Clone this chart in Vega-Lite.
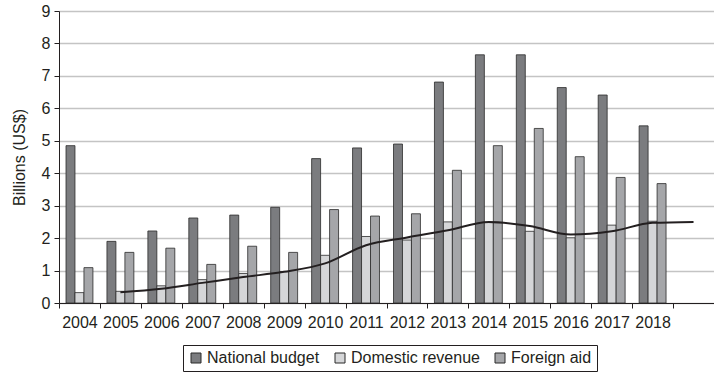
{
  "$schema": "https://vega.github.io/schema/vega-lite/v6.json",
  "autosize": "none",
  "width": 655,
  "height": 292,
  "padding": {"left": 59, "top": 11, "right": 0, "bottom": 71},
  "config": {
    "view": {"stroke": null},
    "font": "Liberation Sans",
    "axis": {"labelFont": "Liberation Sans", "titleFont": "Liberation Sans", "labelColor": "#231f20", "titleColor": "#231f20", "labelFontSize": 16, "titleFontSize": 16, "titleFontWeight": "normal"},
    "legend": {"labelFont": "Liberation Sans", "labelFontSize": 16, "labelColor": "#231f20"}
  },
  "encoding": {
    "y": {
      "type": "quantitative",
      "scale": {"domain": [0, 9], "nice": false},
      "axis": {"title": "Billions (US$)", "values": [0,1,2,3,4,5,6,7,8,9], "labelOverlap": false, "labelBound": false, "gridColor": "#c4c4c4", "gridWidth": 1.3, "domainColor": "#231f20", "tickColor": "#231f20", "tickSize": 5, "labelPadding": 4, "titlePadding": 14}
    }
  },
  "layer": [
    {
      "data": {"values": [
        {"year": "2004", "series": "National budget", "value": 4.85},
        {"year": "2004", "series": "Domestic revenue", "value": 0.32},
        {"year": "2004", "series": "Foreign aid", "value": 1.09},
        {"year": "2005", "series": "National budget", "value": 1.9},
        {"year": "2005", "series": "Domestic revenue", "value": 0.36},
        {"year": "2005", "series": "Foreign aid", "value": 1.56},
        {"year": "2006", "series": "National budget", "value": 2.22},
        {"year": "2006", "series": "Domestic revenue", "value": 0.53},
        {"year": "2006", "series": "Foreign aid", "value": 1.69},
        {"year": "2007", "series": "National budget", "value": 2.62},
        {"year": "2007", "series": "Domestic revenue", "value": 0.72},
        {"year": "2007", "series": "Foreign aid", "value": 1.19},
        {"year": "2008", "series": "National budget", "value": 2.71},
        {"year": "2008", "series": "Domestic revenue", "value": 0.91},
        {"year": "2008", "series": "Foreign aid", "value": 1.75},
        {"year": "2009", "series": "National budget", "value": 2.95},
        {"year": "2009", "series": "Domestic revenue", "value": 0.97},
        {"year": "2009", "series": "Foreign aid", "value": 1.56},
        {"year": "2010", "series": "National budget", "value": 4.45},
        {"year": "2010", "series": "Domestic revenue", "value": 1.47},
        {"year": "2010", "series": "Foreign aid", "value": 2.88},
        {"year": "2011", "series": "National budget", "value": 4.78},
        {"year": "2011", "series": "Domestic revenue", "value": 2.05},
        {"year": "2011", "series": "Foreign aid", "value": 2.68},
        {"year": "2012", "series": "National budget", "value": 4.9},
        {"year": "2012", "series": "Domestic revenue", "value": 1.94},
        {"year": "2012", "series": "Foreign aid", "value": 2.75},
        {"year": "2013", "series": "National budget", "value": 6.81},
        {"year": "2013", "series": "Domestic revenue", "value": 2.5},
        {"year": "2013", "series": "Foreign aid", "value": 4.09},
        {"year": "2014", "series": "National budget", "value": 7.65},
        {"year": "2014", "series": "Domestic revenue", "value": 2.48},
        {"year": "2014", "series": "Foreign aid", "value": 4.85},
        {"year": "2015", "series": "National budget", "value": 7.65},
        {"year": "2015", "series": "Domestic revenue", "value": 2.21},
        {"year": "2015", "series": "Foreign aid", "value": 5.38},
        {"year": "2016", "series": "National budget", "value": 6.64},
        {"year": "2016", "series": "Domestic revenue", "value": 2.01},
        {"year": "2016", "series": "Foreign aid", "value": 4.51},
        {"year": "2017", "series": "National budget", "value": 6.41},
        {"year": "2017", "series": "Domestic revenue", "value": 2.4},
        {"year": "2017", "series": "Foreign aid", "value": 3.87},
        {"year": "2018", "series": "National budget", "value": 5.46},
        {"year": "2018", "series": "Domestic revenue", "value": 2.52},
        {"year": "2018", "series": "Foreign aid", "value": 3.68}
      ]},
      "mark": {"type": "bar", "stroke": "#2b2b2b", "strokeWidth": 0.8},
      "encoding": {
        "x": {
          "field": "year", "type": "nominal",
          "scale": {"domain": ["2004","2005","2006","2007","2008","2009","2010","2011","2012","2013","2014","2015","2016","2017","2018","2019"], "paddingInner": 0, "paddingOuter": 0},
          "axis": {"title": null, "labelAngle": 0, "tickBand": "extent", "domainColor": "#231f20", "tickColor": "#231f20", "tickSize": 5, "labelPadding": 6, "labelExpr": "datum.value == '2019' ? '' : datum.value"}
        },
        "xOffset": {"field": "series", "type": "nominal", "scale": {"domain": ["National budget", "Domestic revenue", "Foreign aid"], "paddingInner": 0, "paddingOuter": 0.78}},
        "y": {"field": "value"},
        "fill": {
          "field": "series", "type": "nominal",
          "scale": {"domain": ["National budget", "Domestic revenue", "Foreign aid"], "range": ["#7b7c7f", "#d5d6d8", "#a5a6a9"]},
          "legend": {"title": null, "orient": "none", "legendX": 124, "legendY": 334, "direction": "horizontal", "symbolType": "square", "symbolSize": 100, "symbolStrokeColor": "#2b2b2b", "symbolStrokeWidth": 1, "strokeColor": "#231f20", "padding": 5, "columnPadding": 12, "labelOffset": 3}
        }
      }
    },
    {
      "data": {"values": [
        {"year": "2005", "avg": 0.33},
        {"year": "2006", "avg": 0.44},
        {"year": "2007", "avg": 0.62},
        {"year": "2008", "avg": 0.8},
        {"year": "2009", "avg": 0.96},
        {"year": "2010", "avg": 1.22},
        {"year": "2011", "avg": 1.78},
        {"year": "2012", "avg": 2.02},
        {"year": "2013", "avg": 2.24},
        {"year": "2014", "avg": 2.5},
        {"year": "2015", "avg": 2.37},
        {"year": "2016", "avg": 2.11},
        {"year": "2017", "avg": 2.21},
        {"year": "2018", "avg": 2.47},
        {"year": "2019", "avg": 2.5}
      ]},
      "mark": {"type": "line", "color": "#231f20", "strokeWidth": 2, "interpolate": "monotone"},
      "encoding": {
        "x": {"field": "year", "type": "nominal"},
        "y": {"field": "avg"}
      }
    }
  ]
}
